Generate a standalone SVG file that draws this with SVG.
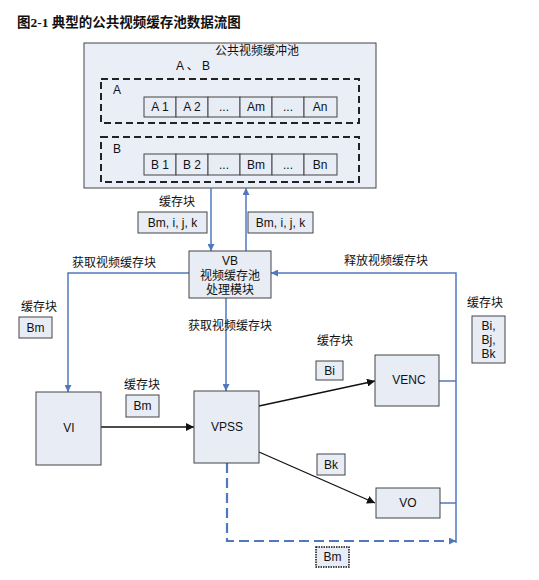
<svg xmlns="http://www.w3.org/2000/svg" width="539" height="580" viewBox="0 0 539 580">
<defs>
<style>
.t{font-family:"Liberation Sans","Noto Sans CJK SC",sans-serif;font-size:12px;fill:#111;text-anchor:middle;dominant-baseline:central}
.tl{font-family:"Liberation Sans","Noto Sans CJK SC",sans-serif;font-size:12px;fill:#111;dominant-baseline:central}
.box{fill:#e7ecf5;stroke:#444;stroke-width:1}
.dash{fill:none;stroke:#222;stroke-width:2;stroke-dasharray:7,4}
.blue{fill:none;stroke:#5079bd;stroke-width:1.5}
.blk{fill:none;stroke:#111;stroke-width:1.3}
</style>
<marker id="ab" viewBox="0 0 10 10" refX="10" refY="5" markerWidth="7" markerHeight="7" markerUnits="userSpaceOnUse" orient="auto"><path d="M0,0 L10,5 L0,10 z" fill="#5079bd"/></marker>
<marker id="ak" viewBox="0 0 10 10" refX="10" refY="5" markerWidth="8" markerHeight="8" markerUnits="userSpaceOnUse" orient="auto"><path d="M0,0 L10,5 L0,10 z" fill="#111"/></marker>
</defs>
<rect width="539" height="580" fill="#fff"/>
<text x="17" y="22" style="font-family:'Liberation Serif','Noto Sans CJK SC',serif;font-size:13.5px;font-weight:bold;fill:#111" dominant-baseline="central">图2-1  典型的公共视频缓存池数据流图</text>

<g id="pool">
<rect class="box" x="84" y="43" width="292" height="145" style="fill:#eaeef7"/>
<text class="t" x="257" y="51">公共视频缓冲池</text>
<text class="t" x="193" y="66">A 、 B</text>
<rect class="dash" x="101" y="79" width="258" height="44"/>
<text class="tl" x="113" y="90">A</text>
<g id="rowA">
<rect class="box" x="144" y="97" width="32" height="20"/><text class="t" x="160" y="107">A 1</text>
<rect class="box" x="176" y="97" width="32" height="20"/><text class="t" x="192" y="107">A 2</text>
<rect class="box" x="208" y="97" width="32" height="20"/><text class="t" x="224" y="107">...</text>
<rect class="box" x="240" y="97" width="32" height="20"/><text class="t" x="256" y="107">Am</text>
<rect class="box" x="272" y="97" width="32" height="20"/><text class="t" x="288" y="107">...</text>
<rect class="box" x="304" y="97" width="33" height="20"/><text class="t" x="320" y="107">An</text>
</g>
<rect class="dash" x="101" y="137" width="258" height="45"/>
<text class="tl" x="113" y="149">B</text>
<g id="rowB">
<rect class="box" x="144" y="154" width="32" height="21"/><text class="t" x="160" y="164.5">B 1</text>
<rect class="box" x="176" y="154" width="32" height="21"/><text class="t" x="192" y="164.5">B 2</text>
<rect class="box" x="208" y="154" width="32" height="21"/><text class="t" x="224" y="164.5">...</text>
<rect class="box" x="240" y="154" width="32" height="21"/><text class="t" x="256" y="164.5">Bm</text>
<rect class="box" x="272" y="154" width="32" height="21"/><text class="t" x="288" y="164.5">...</text>
<rect class="box" x="304" y="154" width="33" height="21"/><text class="t" x="320" y="164.5">Bn</text>
</g>
</g>

<g id="connectors">
<line class="blue" x1="211" y1="188" x2="211" y2="251" marker-end="url(#ab)"/>
<line class="blue" x1="246" y1="251" x2="246" y2="188" marker-end="url(#ab)"/>
<polyline class="blue" points="189,273 68,273 68,392" marker-end="url(#ab)"/>
<line class="blue" x1="226" y1="298" x2="226" y2="391" marker-end="url(#ab)"/>
<polyline class="blue" points="456,543 456,273 271,273" marker-end="url(#ab)"/>
<line class="blue" x1="439" y1="381" x2="456" y2="381"/>
<line class="blue" x1="440" y1="503" x2="456" y2="503"/>
<polyline class="blue" points="227,463 227,541 456,541" style="stroke-width:2.2;stroke-dasharray:10,5" marker-end="url(#ab)"/>
<line class="blk" x1="101" y1="427" x2="194" y2="427" marker-end="url(#ak)"/>
<line class="blk" x1="259" y1="406" x2="375" y2="381" marker-end="url(#ak)"/>
<line class="blk" x1="259" y1="452" x2="375" y2="503" marker-end="url(#ak)"/>
</g>

<g id="labels">
<text class="t" x="177" y="202">缓存块</text>
<rect class="box" x="138" y="212" width="69" height="21"/><text class="t" x="172.5" y="222.5">Bm, i, j, k</text>
<rect class="box" x="248" y="212" width="65" height="21"/><text class="t" x="280.5" y="222.5">Bm, i, j, k</text>
<text class="t" x="114" y="263">获取视频缓存块</text>
<text class="t" x="386" y="261">释放视频缓存块</text>
<text class="t" x="39" y="307">缓存块</text>
<rect class="box" x="19" y="317" width="33" height="21"/><text class="t" x="35.5" y="327.5">Bm</text>
<text class="t" x="230" y="326">获取视频缓存块</text>
<text class="t" x="142" y="385">缓存块</text>
<rect class="box" x="126" y="395" width="33" height="22"/><text class="t" x="142.5" y="406">Bm</text>
<text class="t" x="335" y="341">缓存块</text>
<rect class="box" x="316" y="361" width="27" height="19"/><text class="t" x="329.5" y="370.5">Bi</text>
<rect class="box" x="317" y="454" width="28" height="21"/><text class="t" x="331" y="464.5">Bk</text>
<text class="t" x="485" y="303">缓存块</text>
<rect class="box" x="472" y="316" width="33" height="47"/>
<text class="t" x="488.5" y="326">Bi,</text>
<text class="t" x="488.5" y="340">Bj,</text>
<text class="t" x="488.5" y="354">Bk</text>
<rect x="316" y="547" width="33" height="20" fill="#e7ecf5" stroke="#111" stroke-width="1.5" stroke-dasharray="1.5,1"/><text class="t" x="332.5" y="557">Bm</text>
</g>

<g id="VB"><rect class="box" x="189" y="251" width="82" height="47"/>
<text class="t" x="230" y="261">VB</text><text class="t" x="230" y="276">视频缓存池</text><text class="t" x="230" y="290">处理模块</text></g>
<g id="VI"><rect class="box" x="36" y="392" width="65" height="73"/><text class="t" x="69" y="428">VI</text></g>
<g id="VPSS"><rect class="box" x="194" y="391" width="65" height="72"/><text class="t" x="227" y="427">VPSS</text></g>
<g id="VENC"><rect class="box" x="375" y="355" width="64" height="51"/><text class="t" x="409" y="380">VENC</text></g>
<g id="VO"><rect class="box" x="376" y="488" width="64" height="30"/><text class="t" x="408" y="503">VO</text></g>
</svg>
